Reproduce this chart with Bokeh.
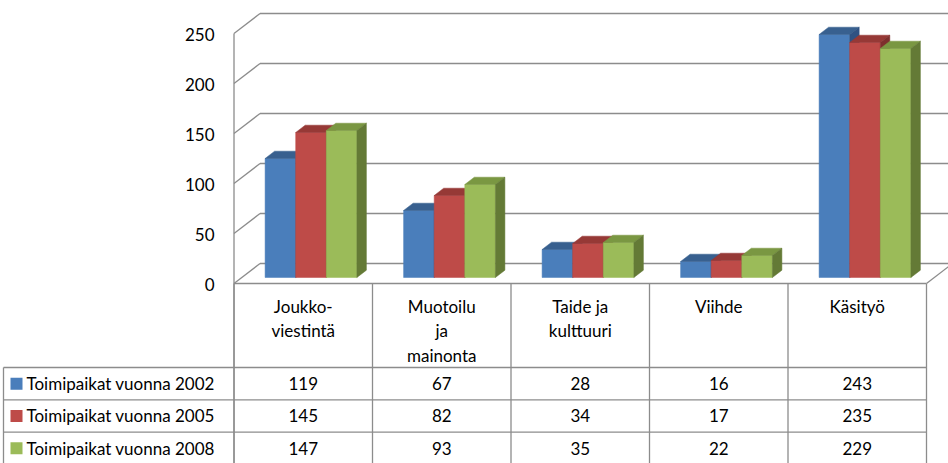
from bokeh.plotting import figure
from bokeh.models import Range1d, ColumnDataSource
from bokeh.embed import file_html
from bokeh.resources import INLINE
from bokeh.core.properties import value

# ---------------- data ----------------
categories = ["Joukko-\nviestintä", "Muotoilu\nja\nmainonta", "Taide ja\nkulttuuri", "Viihde", "Käsityö"]
series_names = ["Toimipaikat vuonna 2002", "Toimipaikat vuonna 2005", "Toimipaikat vuonna 2008"]
values_2002 = [119, 67, 28, 16, 243]
values_2005 = [145, 82, 34, 17, 235]
values_2008 = [147, 93, 35, 22, 229]
y_ticks = [0, 50, 100, 150, 200, 250]

series_values = [values_2002, values_2005, values_2008]

# ---------------- style ----------------
FRONT = ["#4A7EBB", "#BE4B48", "#9BBB59"]
TOP = ["#38608F", "#963936", "#7A9742"]
SIDE = ["#2F5283", "#7E2F2D", "#647A36"]
GRID = "#8C8C8C"
FONT = "Lato"
FS = "17px"

X0 = 233.5          # left edge of category area
CELL = 138.5        # category width
GAP = 23.3          # gap inside category before first bar
BW = 30.6           # bar width
WALL_DX, WALL_DY = 26, 20
BAR_OX, BAR_OY = 7.8, 6
BAR_DX, BAR_DY = 9.5, 7.3
ROW_TOP = -84
ROW_H = 32.3
LEG_X = 3

ncat = len(categories)
X_END = X0 + ncat * CELL

p = figure(width=948, height=463, x_range=Range1d(0, 948), y_range=Range1d(-180, 283),
           output_backend="svg", toolbar_location=None,
           x_axis_location=None, y_axis_location=None, min_border=0)
p.grid.visible = False
p.outline_line_color = None
p.background_fill_color = "white"
p.border_fill_color = "white"

# --- back wall gridlines and side-wall diagonals ---
gx0 = [X0 + WALL_DX for t in y_ticks]
gx1 = [960 for t in y_ticks]
gy = [t + WALL_DY for t in y_ticks]
p.segment(x0=gx0, y0=gy, x1=gx1, y1=gy, line_color=GRID, line_width=1.3)
p.segment(x0=[X0] * len(y_ticks), y0=y_ticks, x1=gx0, y1=gy, line_color=GRID, line_width=1.3)

# front wall edge + floor
p.segment(x0=[X0], y0=[max(y_ticks)], x1=[X0], y1=[-200], line_color=GRID, line_width=1.3)
p.segment(x0=[X0, X_END], y0=[0, 0], x1=[X_END, X_END + WALL_DX], y1=[0, WALL_DY],
          line_color=GRID, line_width=1.3)

# --- bars (front, top, side), painted left to right ---
xs, ys, cols = [], [], []
for i in range(ncat):
    for j, vals in enumerate(series_values):
        v = vals[i]
        x0 = X0 + i * CELL + GAP + j * BW + BAR_OX
        x1 = x0 + BW
        yb = BAR_OY
        yt = BAR_OY + v
        xs.append([x0, x1, x1, x0]); ys.append([yb, yb, yt, yt]); cols.append(FRONT[j])
        xs.append([x0, x1, x1 + BAR_DX, x0 + BAR_DX]); ys.append([yt, yt, yt + BAR_DY, yt + BAR_DY]); cols.append(TOP[j])
        xs.append([x1, x1 + BAR_DX, x1 + BAR_DX, x1]); ys.append([yb, yb + BAR_DY, yt + BAR_DY, yt]); cols.append(SIDE[j])
p.patches(xs="xs", ys="ys", fill_color="c", line_color="c", line_width=0.5,
          source=ColumnDataSource(dict(xs=xs, ys=ys, c=cols)))

# --- y tick labels ---
p.text(x=[214] * len(y_ticks), y=[t - 1 for t in y_ticks], text=[str(t) for t in y_ticks],
       text_align="right", text_baseline="middle", text_font=value(FONT),
       text_font_size=FS, text_color="#000000")

# --- data table ---
nrows = len(series_names)
row_lines = [ROW_TOP - k * ROW_H for k in range(nrows + 1)]
p.segment(x0=[LEG_X] * len(row_lines), y0=row_lines, x1=[X_END] * len(row_lines), y1=row_lines,
          line_color=GRID, line_width=1.3)
vx = [X0 + k * CELL for k in range(ncat + 1)]
p.segment(x0=vx, y0=[0] * len(vx), x1=vx, y1=[-200] * len(vx), line_color=GRID, line_width=1.3)
p.segment(x0=[LEG_X], y0=[ROW_TOP], x1=[LEG_X], y1=[-200], line_color=GRID, line_width=1.3)

cx = [X0 + (i + 0.5) * CELL for i in range(ncat)]
p.text(x=cx, y=[-12] * ncat, text=categories, text_align="center", text_baseline="top",
       text_font=value(FONT), text_font_size=FS, text_line_height=1.18, text_color="#000000")

row_c = [ROW_TOP - (k + 0.5) * ROW_H for k in range(nrows)]
p.rect(x=[LEG_X + 13] * nrows, y=row_c, width=12, height=12, fill_color=FRONT, line_color=None)
p.text(x=[LEG_X + 23] * nrows, y=row_c, text=series_names, text_align="left", text_baseline="middle",
       text_font=value(FONT), text_font_size=FS, text_color="#000000")

tx, ty, tt = [], [], []
for k, vals in enumerate(series_values):
    for i in range(ncat):
        tx.append(cx[i]); ty.append(row_c[k]); tt.append(str(vals[i]))
p.text(x=tx, y=ty, text=tt, text_align="center", text_baseline="middle",
       text_font=value(FONT), text_font_size=FS, text_color="#000000")

open("out.html", "w").write(file_html(p, INLINE))
